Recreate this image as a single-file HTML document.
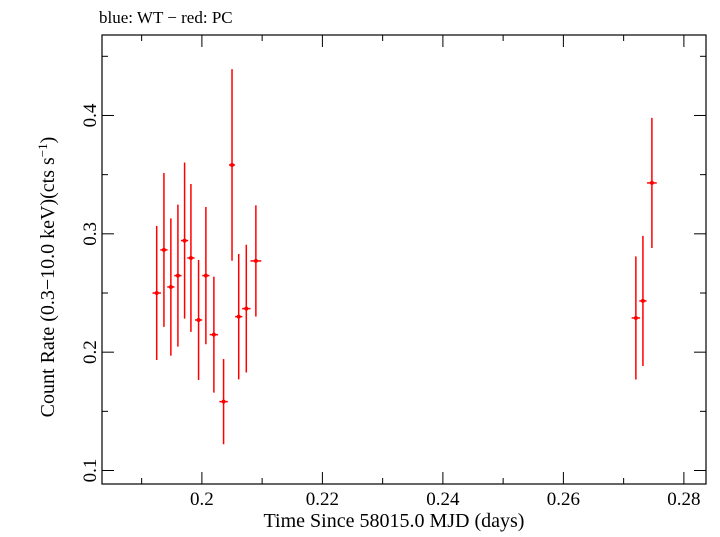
<!DOCTYPE html>
<html><head><meta charset="utf-8"><style>
body{margin:0;background:#fff;}
svg text{font-family:"Liberation Serif",serif;fill:#000;}
</style></head><body>
<svg id="chart" width="720" height="532" viewBox="0 0 720 532" xmlns="http://www.w3.org/2000/svg">
<text x="99" y="23" font-size="17">blue: WT − red: PC</text>
<rect x="102" y="35" width="604" height="449" fill="none" stroke="#000" stroke-width="1.2"/>
<g id="axes"></g>
<g id="marks"></g>
<text x="394" y="527" font-size="20" text-anchor="middle">Time Since 58015.0 MJD (days)</text>
<text transform="translate(54,277) rotate(-90)" font-size="20" text-anchor="middle">Count Rate (0.3−10.0 keV)(cts s<tspan dy="-7" font-size="13">−1</tspan><tspan dy="7">)</tspan></text>
</svg>
<script>
const times=[0.1925,0.1937,0.19485,0.19602,0.19713,0.19818,0.19945,0.20066,0.20199,0.2036,0.2050,0.20611,0.20737,0.20896,0.27203,0.2732,0.27469];
const rates=[0.250,0.2864,0.2551,0.2647,0.2943,0.2796,0.2272,0.2647,0.2148,0.1582,0.3582,0.230,0.2368,0.2771,0.2289,0.2433,0.343];
const rateErrs=[0.0566,0.065,0.058,0.060,0.066,0.0625,0.0507,0.058,0.049,0.036,0.081,0.053,0.054,0.047,0.052,0.055,0.055];
const timeErrs=[0.0007,0.0006,0.0006,0.0006,0.0006,0.0006,0.0006,0.0006,0.0007,0.0007,0.0005,0.0006,0.0007,0.0009,0.0007,0.0006,0.0008];
const xTicks=[0.2,0.22,0.24,0.26,0.28];
const xTickLabels=["0.2","0.22","0.24","0.26","0.28"];
const yTicks=[0.1,0.2,0.3,0.4];
const yTickLabels=["0.1","0.2","0.3","0.4"];
const X0=0.18342,X1=0.28367,Y0=0.0886,Y1=0.468;
const L=102,R=706,T=35,B=484;
const xs=v=>L+(v-X0)/(X1-X0)*(R-L);
const ys=v=>B-(v-Y0)/(Y1-Y0)*(B-T);
const NS="http://www.w3.org/2000/svg";
function mk(tag,attrs,parent){const e=document.createElementNS(NS,tag);for(const k in attrs)e.setAttribute(k,attrs[k]);parent.appendChild(e);return e;}
const ax=document.getElementById('axes');
for(let v=0.19;v<X1;v+=0.01){const x=xs(v);const major=xTicks.some(t=>Math.abs(t-v)<1e-6);const len=major?12:6;
 let t1=mk('line',{x1:x,x2:x,y1:B,y2:B-len,stroke:'#000'},ax);
 
 
 let t2=mk('line',{x1:x,x2:x,y1:T,y2:T+len,stroke:'#000'},ax);
 
 }
xTicks.forEach((v,i)=>{const t=mk('text',{x:xs(v),y:B+21,'font-size':19,'text-anchor':'middle'},ax);t.textContent=xTickLabels[i];
 
 });
for(let v=0.1;v<Y1;v+=0.05){const y=ys(v);const major=yTicks.some(t=>Math.abs(t-v)<1e-6);const len=major?12:6;
 let t1=mk('line',{x1:L,x2:L+len,y1:y,y2:y,stroke:'#000'},ax);
 
 
 let t2=mk('line',{x1:R,x2:R-len,y1:y,y2:y,stroke:'#000'},ax);
 
 }
yTicks.forEach((v,i)=>{const y=ys(v);const t=mk('text',{transform:`translate(96,${y}) rotate(-90)`,'font-size':19,'text-anchor':'middle'},ax);t.textContent=yTickLabels[i];
 
 });
const mg=document.getElementById('marks');
times.forEach((t,i)=>{const g=mk('g',{},mg);
 
 
 mk('line',{x1:xs(t),x2:xs(t),y1:ys(rates[i]-rateErrs[i]),y2:ys(rates[i]+rateErrs[i]),stroke:'#f00','stroke-width':1.5},g);
 mk('line',{x1:xs(t-timeErrs[i]),x2:xs(t+timeErrs[i]),y1:ys(rates[i]),y2:ys(rates[i]),stroke:'#f00','stroke-width':1.5},g);
 mk('circle',{cx:xs(t),cy:ys(rates[i]),r:2,fill:'#f00'},g);});
</script>
</body></html>
